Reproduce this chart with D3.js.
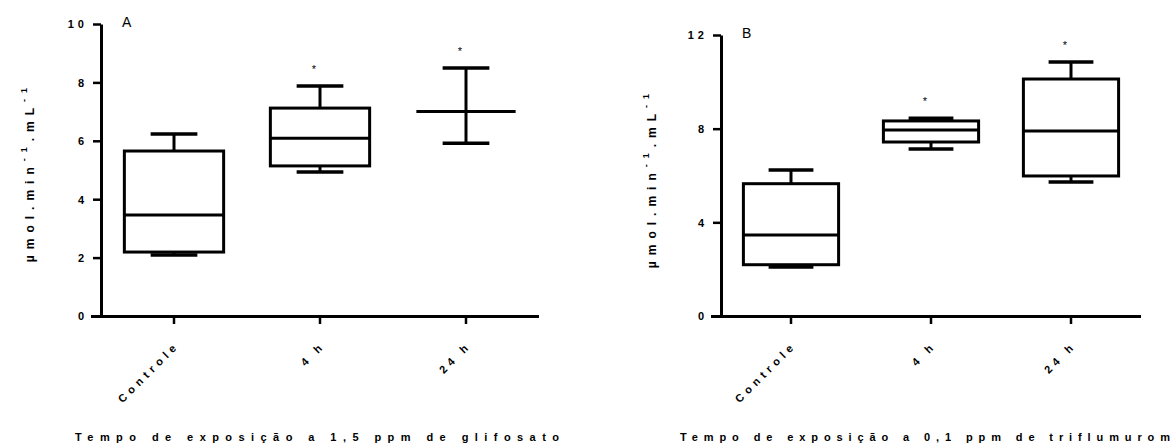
<!DOCTYPE html>
<html lang="pt">
<head>
<meta charset="UTF-8">
<title>Box plots - glifosato e triflumurom</title>
<script src="https://cdn.jsdelivr.net/npm/d3@7"></script>
<style>
body { margin: 0; background: #fff; }
svg { display: block; font-family: 'Liberation Sans', Arial, sans-serif; }
.tick text { font-weight: bold; fill: #000; }
</style>
</head>
<body>
<div id="chart"></div>
<script>
// Categories and tick values
const categories = ["Controle", "4 h", "24 h"];
const glifTicks = [0, 2, 4, 6, 8, 10];
const trifTicks = [0, 4, 8, 12];

// Panel A: glifosato (min, q1, median, q3, max)
const glifMin = [2.09, 4.93, 5.92];
const glifQ1  = [2.19, 5.14, 7.00];
const glifMed = [3.46, 6.09, 7.00];
const glifQ3  = [5.65, 7.12, 7.00];
const glifMax = [6.23, 7.88, 8.49];
const glifSig = [false, true, true];

// Panel B: triflumurom
const trifMin = [2.09, 7.13, 5.72];
const trifQ1  = [2.19, 7.43, 5.98];
const trifMed = [3.46, 7.94, 7.90];
const trifQ3  = [5.65, 8.33, 10.12];
const trifMax = [6.23, 8.45, 10.85];
const trifSig = [false, true, true];

const width = 1176, height = 445;
const svg = d3.select("#chart").append("svg")
    .attr("width", width).attr("height", height);

function drawPanel(opt) {
    const g = svg.append("g");
    const x = d3.scaleBand().domain(categories).range(opt.xRange).padding(0);
    const y = d3.scaleLinear().domain([0, d3.max(opt.ticks)]).range(opt.yRange);
    const bw = x.bandwidth();
    const boxW = bw * 0.68, capW = bw * 0.32;
    const y0 = y(0);

    // y axis
    const ya = g.append("g")
        .attr("transform", `translate(${opt.xRange[0]},0)`)
        .call(d3.axisLeft(y).tickValues(opt.ticks).tickSize(8).tickSizeOuter(0).tickPadding(9));
    ya.select(".domain").attr("stroke-width", 3);
    ya.selectAll(".tick line").attr("stroke-width", 2.5);
    ya.selectAll(".tick text")
        .style("font-size", "11px")
        .style("letter-spacing", "4px")
        .attr("dx", 4)
        .attr("dy", "0.35em")
        .attr("font-family", "'Liberation Sans', Arial, sans-serif");

    // x axis
    const xa = g.append("g")
        .attr("transform", `translate(0,${y0})`)
        .call(d3.axisBottom(x).tickSize(8).tickSizeOuter(0));
    xa.select(".domain").attr("stroke-width", 3)
        .attr("d", `M${opt.xRange[0] - 10},0.5H${opt.xRange[1]}`);
    xa.selectAll(".tick line").attr("stroke-width", 2.5);
    xa.selectAll(".tick text")
        .attr("font-family", "'Liberation Sans', Arial, sans-serif")
        .style("font-size", "11px")
        .style("letter-spacing", "4.5px")
        .attr("text-anchor", "end")
        .attr("y", 0).attr("dy", 0)
        .attr("transform", "translate(6,30) rotate(-45)");

    // boxes
    categories.forEach((c, i) => {
        const cx = x(c) + bw / 2;
        const box = g.append("g").attr("stroke", "#000").attr("stroke-width", 3).attr("fill", "none");
        box.append("line").attr("x1", cx).attr("x2", cx).attr("y1", y(opt.max[i])).attr("y2", y(opt.q3[i]));
        box.append("line").attr("x1", cx).attr("x2", cx).attr("y1", y(opt.q1[i])).attr("y2", y(opt.min[i]));
        box.append("line").attr("x1", cx - capW / 2).attr("x2", cx + capW / 2)
            .attr("y1", y(opt.max[i])).attr("y2", y(opt.max[i])).attr("stroke-width", 3.5);
        box.append("line").attr("x1", cx - capW / 2).attr("x2", cx + capW / 2)
            .attr("y1", y(opt.min[i])).attr("y2", y(opt.min[i])).attr("stroke-width", 3.5);
        box.append("rect")
            .attr("x", cx - boxW / 2).attr("width", boxW)
            .attr("y", y(opt.q3[i])).attr("height", y(opt.q1[i]) - y(opt.q3[i]));
        box.append("line").attr("x1", cx - boxW / 2).attr("x2", cx + boxW / 2)
            .attr("y1", y(opt.med[i])).attr("y2", y(opt.med[i]));
        if (opt.sig[i]) {
            g.append("text").attr("x", cx - 6).attr("y", y(opt.max[i]) - 13)
                .attr("text-anchor", "middle").attr("font-size", 11).text("*");
        }
    });

    // panel letter
    g.append("text").attr("x", opt.xRange[0] + 21).attr("y", opt.yRange[1] + 3)
        .attr("font-size", 14).text(opt.letter);

    // y title
    const yt = g.append("text")
        .attr("transform", `translate(${opt.yTitleX},${opt.yTitleY}) rotate(-90)`)
        .attr("text-anchor", "middle")
        .attr("font-size", 12).attr("font-weight", "bold")
        .style("letter-spacing", "6px");
    yt.append("tspan").text("µmol.min");
    yt.append("tspan").attr("font-size", 9).attr("dy", -7).text("-1");
    yt.append("tspan").attr("dy", 7).text(".mL");
    yt.append("tspan").attr("font-size", 9).attr("dy", -7).text("-1");

    // x title
    g.append("text")
        .attr("x", opt.titleX).attr("y", 441)
        .attr("font-size", 11).attr("font-weight", "bold")
        .attr("textLength", opt.titleLen).attr("lengthAdjust", "spacing")
        .text(opt.title);
}

drawPanel({
    letter: "A", xRange: [101, 539], yRange: [316, 24], ticks: glifTicks,
    min: glifMin, q1: glifQ1, med: glifMed, q3: glifQ3, max: glifMax, sig: glifSig,
    yTitleX: 34, yTitleY: 172, titleX: 75, titleLen: 484,
    title: "Tempo de exposição a 1,5 ppm de glifosato"
});
drawPanel({
    letter: "B", xRange: [721, 1141], yRange: [316, 35], ticks: trifTicks,
    min: trifMin, q1: trifQ1, med: trifMed, q3: trifQ3, max: trifMax, sig: trifSig,
    yTitleX: 656, yTitleY: 178, titleX: 680, titleLen: 490,
    title: "Tempo de exposição a 0,1 ppm de triflumurom"
});
</script>
</body>
</html>
